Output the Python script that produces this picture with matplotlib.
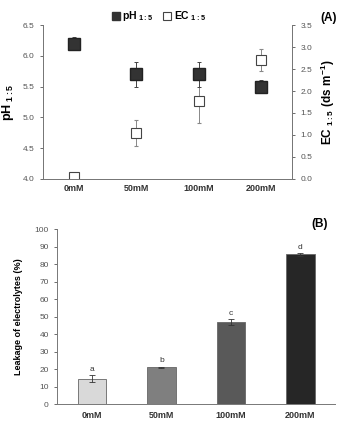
import numpy as np
import matplotlib.pyplot as plt
from matplotlib.lines import Line2D

plt.rcParams['font.family'] = ['Liberation Sans', 'DejaVu Sans']
plt.rcParams['mathtext.fontset'] = 'custom'
plt.rcParams['mathtext.bf'] = 'Liberation Sans:bold'
plt.rcParams['mathtext.rm'] = 'Liberation Sans'

labels = ['0mM', '50mM', '100mM', '200mM']
ph = [6.2, 5.7, 5.7, 5.5]
ph_err = [0.1, 0.2, 0.2, 0.1]
ec = [0.05, 1.05, 1.78, 2.7]
ec_err = [0.0, 0.3, 0.5, 0.25]
leak = [14.5, 21.0, 47.0, 85.5]
leak_err = [2.0, 0.4, 1.5, 0.7]
letters = ['a', 'b', 'c', 'd']
bar_colors = ['#d9d9d9', '#7f7f7f', '#595959', '#262626']

fig = plt.figure(figsize=(3.44, 4.25), dpi=100)
tc = '#555555'
x = np.arange(len(labels))

# panel A
ax = fig.add_axes([0.125, 0.579, 0.724, 0.362])
ax2 = ax.twinx()
ax.errorbar(x, ph, yerr=ph_err, fmt='s', ms=8, color='#333333', mec='#222222',
            ecolor='#444444', elinewidth=0.7, capsize=1.5, capthick=0.7, zorder=3)
ax2.errorbar(x, ec, yerr=ec_err, fmt='s', ms=7.5, mfc='white', mec='#444444', mew=0.8,
             ecolor='#888888', elinewidth=0.7, capsize=1.5, capthick=0.7, zorder=2)
ax.set_zorder(ax2.get_zorder() + 1)
ax.patch.set_visible(False)
ax.set_xlim(-0.5, 3.5)
ax.set_ylim(4.0, 6.5)
ax.set_yticks(np.arange(4.0, 6.51, 0.5))
ax.set_yticklabels([f'{v:.1f}' for v in np.arange(4.0, 6.51, 0.5)])
ax2.set_ylim(0, 3.5)
ax2.set_yticks(np.arange(0, 3.51, 0.5))
ax2.set_yticklabels([f'{v:.1f}' for v in np.arange(0, 3.51, 0.5)])
ax.set_xticks(x)
ax.set_xticklabels(labels, fontweight='bold', fontsize=6.5, color='#333333')
ax.tick_params(axis='x', length=0, pad=4)
ax.tick_params(axis='y', labelsize=6, colors=tc, length=2.5, width=0.6)
ax2.tick_params(axis='y', labelsize=6, colors=tc, length=2.5, width=0.6)
for a in (ax, ax2):
    a.spines['top'].set_visible(False)
    for s in a.spines.values():
        s.set_color('#777777')
        s.set_linewidth(0.7)
ax.set_ylabel(r'$\mathbf{pH}_{\ \mathbf{1:5}}$', fontsize=9, labelpad=5)
ax2.set_ylabel(r'$\mathbf{EC}_{\ \mathbf{1:5}}\ \mathbf{(ds\ m^{-1})}$', fontsize=8.5, labelpad=5)
handles = [Line2D([], [], ls='none', marker='s', ms=6, color='#333333'),
           Line2D([], [], ls='none', marker='s', ms=6, mfc='white', mec='#444444', mew=0.8)]
fig.legend(handles, [r'$\mathbf{pH}_{\ \mathbf{1:5}}$', r'$\mathbf{EC}_{\ \mathbf{1:5}}$'],
           loc='center', bbox_to_anchor=(0.46, 0.962), ncol=2,
           frameon=False, prop={'size': 7.5},
           handletextpad=0.1, columnspacing=0.8, handlelength=1.0)
fig.text(0.955, 0.95, '(A)', fontsize=8.5, fontweight='bold', ha='center')

# panel B
bx = fig.add_axes([0.166, 0.049, 0.808, 0.412])
bx.bar(x, leak, width=0.41, color=bar_colors, edgecolor='#666666', linewidth=0.6,
       yerr=leak_err, error_kw=dict(ecolor='#333333', elinewidth=0.6, capsize=2, capthick=0.6))
for i in range(len(x)):
    bx.text(x[i], leak[i] + leak_err[i] + 1.5, letters[i], ha='center', va='bottom',
            fontsize=6, color='#333333')
bx.set_xlim(-0.5, 3.5)
bx.set_ylim(0, 100)
bx.set_yticks(np.arange(0, 101, 10))
bx.set_xticks(x)
bx.set_xticklabels(labels, fontweight='bold', fontsize=6.5, color='#333333')
bx.tick_params(axis='x', length=0, pad=5)
bx.tick_params(axis='y', labelsize=6, colors=tc, length=2.5, width=0.6)
bx.spines['top'].set_visible(False)
bx.spines['right'].set_visible(False)
for s in bx.spines.values():
    s.set_color('#777777')
    s.set_linewidth(0.7)
bx.set_ylabel('Leakage of electrolytes (%)', fontsize=6.5, fontweight='bold', labelpad=8)
fig.text(0.93, 0.465, '(B)', fontsize=8.5, fontweight='bold', ha='center')

fig.savefig('out.png', dpi=100)
